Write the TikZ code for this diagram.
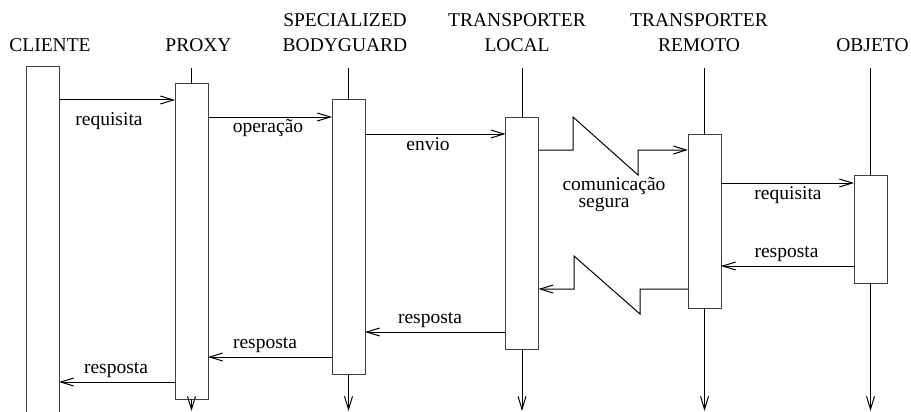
\documentclass[tikz,border=0pt]{standalone}
\usepackage{fontspec}
\setmainfont{Liberation Serif}
\usetikzlibrary{arrows.meta}
\begin{document}
\begin{tikzpicture}[x=1pt,y=-1pt,
  font=\fontsize{19.5}{25}\selectfont,
  actbox/.style={draw=black!75,line width=1pt,fill=white,minimum width=33pt,inner sep=0pt,outer sep=0pt},
  lifeline/.style={line width=1pt},
  tip/.style={-{Straight Barb[length=13pt,width=8pt,line width=1pt]}},
  msg/.style={line width=1pt,tip},
  hdr/.style={anchor=south,align=center,inner sep=0pt,text depth=0pt},
  lbl/.style={anchor=base,inner sep=0pt}]
\useasboundingbox (0,0) rectangle (911,412);

% lifeline heads and ends
\coordinate (pt) at (191.5,68);
\coordinate (bt) at (348.5,68);
\coordinate (lt) at (522,68);
\coordinate (rt) at (704.5,68);
\coordinate (ot) at (870.5,68);
\coordinate (pe) at (191.5,411);
\coordinate (be) at (348.5,411);
\coordinate (le) at (522,411);
\coordinate (re) at (704.5,411);
\coordinate (oe) at (870.5,411);

% activation boxes
\node[actbox,minimum height=363pt] (cb) at (42.5,248.5) {};
\node[actbox,minimum height=315pt] (pb) at (191.5,241.5) {};
\node[actbox,minimum height=274pt] (bb) at (348.5,237) {};
\node[actbox,minimum height=232pt] (lb) at (522,233) {};
\node[actbox,minimum height=174pt] (rb) at (704.5,221) {};
\node[actbox,minimum height=108pt] (ob) at (870.5,229) {};

% lifelines
\draw[lifeline] (pt) -- (pb.north);
\draw[lifeline] (bt) -- (bb.north);
\draw[lifeline] (lt) -- (lb.north);
\draw[lifeline] (rt) -- (rb.north);
\draw[lifeline] (ot) -- (ob.north);
\draw[lifeline,tip] (pb.south) -- (pe);
\draw[lifeline,tip] (bb.south) -- (be);
\draw[lifeline,tip] (lb.south) -- (le);
\draw[lifeline,tip] (rb.south) -- (re);
\draw[lifeline,tip] (ob.south) -- (oe);

% headers
\node[hdr] (hc) at (50,52) {CLIENTE};
\node[hdr] (hp) at (198.5,52) {PROXY};
\node[hdr] (hb) at (345,52) {SPECIALIZED\\BODYGUARD};
\node[hdr] (hl) at (517,52) {TRANSPORTER\\LOCAL};
\node[hdr] (hr) at (699,52) {TRANSPORTER\\REMOTO};
\node[hdr] (ho) at (872.5,52) {OBJETO};

% requests
\draw[msg] (cb.east |- 0,100) -- (pb.west |- 0,100);
\node[lbl] at (109,125) {requisita};
\draw[msg] (pb.east |- 0,117) -- (bb.west |- 0,117);
\node[lbl] at (268,132.5) {operação};
\draw[msg] (bb.east |- 0,134) -- (lb.west |- 0,134);
\node[lbl] at (428,150) {envio};
\draw[msg] (lb.east |- 0,150) -- (573,150) -- (573,117) -- (638,175) -- (638,150) -- (rb.west |- 0,150);
\node[lbl,align=left,font=\fontsize{19.5}{16.6}\selectfont] at (614,207.5) {comunicação\\\hspace*{16pt}segura};
\draw[msg] (rb.east |- 0,183) -- (ob.west |- 0,183);
\node[lbl] at (788,199.5) {requisita};

% replies
\draw[msg] (ob.west |- 0,266) -- (rb.east |- 0,266);
\node[lbl] at (786.5,257.5) {resposta};
\draw[msg] (rb.west |- 0,289) -- (640,289) -- (640,314) -- (574,256) -- (574,289) -- (lb.east |- 0,289);
\draw[msg] (lb.west |- 0,332) -- (bb.east |- 0,332);
\node[lbl] at (430,323.5) {resposta};
\draw[msg] (bb.west |- 0,357) -- (pb.east |- 0,357);
\node[lbl] at (265,348.5) {resposta};
\draw[msg] (pb.west |- 0,382) -- (cb.east |- 0,382);
\node[lbl] at (116,373.5) {resposta};
\end{tikzpicture}
\end{document}
